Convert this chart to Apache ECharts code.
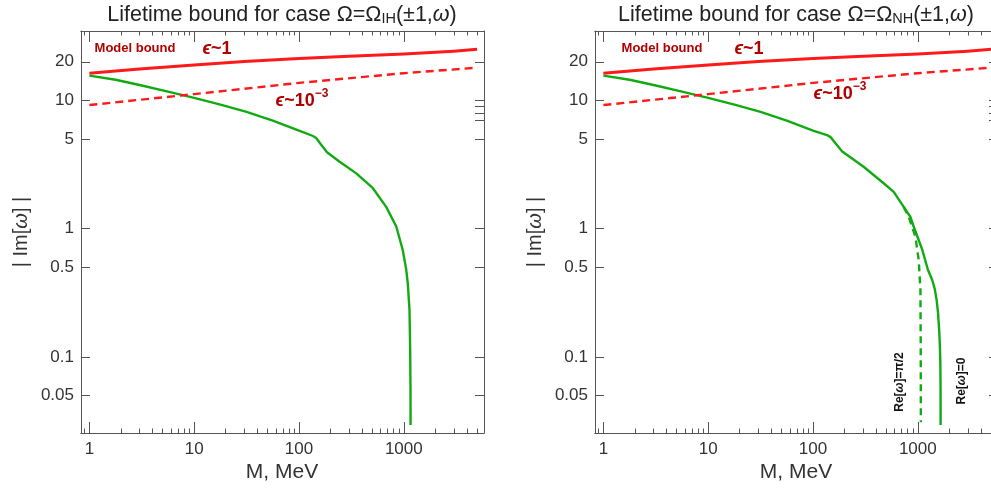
<!DOCTYPE html>
<html>
<head>
<meta charset="utf-8">
<script src="https://cdn.jsdelivr.net/npm/echarts@6/dist/echarts.min.js"></script>
<style>html,body{margin:0;padding:0;background:#fff;}#c{width:991px;height:494px;}</style>
</head>
<body>
<div id="c"></div>
<script>
// ---- data (M in MeV, |Im[ω]|) ----
const redSolidM = [1, 3, 10, 30, 100, 300, 1000, 3000, 5000];
const redSolidY = [16.3, 17.6, 18.9, 20.1, 21.2, 22.1, 23.0, 24.2, 25.0];
const redDashM = [1, 10, 100, 1000, 5000];
const redDashY = [9.2, 11.2, 13.7, 16.3, 18.0];

const greenIH_M = [1, 1.78, 3.16, 5.62, 10, 17.8, 31.6, 56.2, 100, 136, 146, 160, 185, 244, 352, 507, 679, 847, 978, 1054, 1091, 1133, 1150, 1158, 1160];
const greenIH_Y = [15.6, 14.5, 13.06, 11.72, 10.47, 9.27, 8.15, 6.97, 5.82, 5.28, 5.1, 4.6, 3.95, 3.33, 2.70, 2.07, 1.48, 1.04, 0.68, 0.48, 0.375, 0.232, 0.113, 0.055, 0.0295];

const greenNH_M = [1, 1.78, 3.16, 5.62, 10, 17.8, 31.6, 56.2, 100, 136, 148, 163, 190, 304, 472, 589, 733, 848, 914, 1000, 1100, 1250, 1370, 1450, 1510, 1560, 1600, 1625, 1640, 1648, 1650];
const greenNH_Y = [15.6, 14.5, 13.06, 11.72, 10.47, 9.27, 8.15, 6.97, 5.82, 5.37, 5.15, 4.65, 4.0, 3.04, 2.26, 1.94, 1.48, 1.24, 1.04, 0.85, 0.69, 0.477, 0.40, 0.34, 0.28, 0.22, 0.16, 0.12, 0.09, 0.055, 0.0295];
const greenNHdash_M = [733, 819, 948, 1020, 1059, 1066, 1069];
const greenNHdash_Y = [1.48, 1.24, 0.867, 0.57, 0.333, 0.12, 0.031];

const xTickLabels = [1, 10, 100, 1000];
const xMinorTicks = [0.9, 2, 3, 4, 5, 6, 7, 8, 9, 20, 30, 40, 50, 60, 70, 80, 90, 200, 300, 400, 500, 600, 700, 800, 900, 2000, 3000, 4000, 5000];
const yTickLabels = [0.05, 0.1, 0.5, 1, 5, 10, 20];
const yRightTicks = [0.05, 0.1, 0.5, 1, 5, 7, 8, 9, 10, 20];

// ---- layout/style ----
const XMIN = -0.08, XMAX = 3.765, YMIN = -1.592, YMAX = 1.541;
const FONT = 'Liberation Sans, Arial, sans-serif';
const FRAME = '#555';
const TXT = '#333';
const RED = '#ff1a1a', GREEN = '#12aa12', DRED = '#b00000';
const L = v => Math.log10(v);
const pts = (m, y) => m.map((v, i) => [L(v), L(y[i])]);
const fmt = v => String(Number(Math.pow(10, v).toPrecision(4)));

function xAx(gi, pos, ticks, len, labels) {
  return {
    gridIndex: gi, type: 'value', position: pos, min: XMIN, max: XMAX,
    axisLine: {show: true, onZero: false, lineStyle: {color: FRAME, width: 1}},
    axisTick: {show: true, inside: true, length: len, customValues: ticks.map(L), lineStyle: {color: FRAME, width: 1}},
    axisLabel: labels ? {show: true, customValues: labels.map(L), formatter: fmt, fontSize: 17, color: TXT, fontFamily: FONT, margin: 8} : {show: false},
    splitLine: {show: false}
  };
}
function yAx(gi, pos, ticks, labels) {
  return {
    gridIndex: gi, type: 'value', position: pos, min: YMIN, max: YMAX,
    axisLine: {show: true, onZero: false, lineStyle: {color: FRAME, width: 1}},
    axisTick: {show: true, inside: true, length: 9, customValues: ticks.map(L), lineStyle: {color: FRAME, width: 1}},
    axisLabel: labels ? {show: true, customValues: labels.map(L), formatter: fmt, fontSize: 17, color: TXT, fontFamily: FONT, margin: 7} : {show: false},
    splitLine: {show: false}
  };
}

const xAxis = [], yAxis = [];
[0, 1].forEach(gi => {
  xAxis.push(xAx(gi, 'bottom', xTickLabels, 11, xTickLabels));
  xAxis.push(xAx(gi, 'bottom', xMinorTicks, 4.5, null));
  xAxis.push(xAx(gi, 'top', xTickLabels, 11, null));
  xAxis.push(xAx(gi, 'top', xMinorTicks, 4.5, null));
  yAxis.push(yAx(gi, 'left', yTickLabels, yTickLabels));
  yAxis.push(yAx(gi, 'right', yRightTicks, null));
});

function line(gi, data, color, width, dash) {
  return {
    type: 'line', xAxisIndex: gi * 4, yAxisIndex: gi * 2, data: data,
    showSymbol: false, symbol: 'none', smooth: false, clip: true, silent: true,
    lineStyle: {color: color, width: width, type: dash || 'solid', cap: 'butt', join: 'round'},
    z: 3
  };
}

const series = [
  line(0, pts(greenIH_M, greenIH_Y), GREEN, 2.4),
  line(0, pts(redDashM, redDashY), RED, 2.4, [8, 5]),
  line(0, pts(redSolidM, redSolidY), RED, 3),
  line(1, pts(greenNH_M, greenNH_Y), GREEN, 2.4),
  line(1, pts(greenNHdash_M, greenNHdash_Y), GREEN, 2.4, [7, 5]),
  line(1, pts(redDashM, redDashY), RED, 2.4, [8, 5]),
  line(1, pts(redSolidM, redSolidY), RED, 3)
];

function txt(x, y, text, rich, extra) {
  return Object.assign({type: 'text', x: x, y: y, silent: true,
    style: {text: text, rich: rich, align: 'center', verticalAlign: 'middle', fontFamily: FONT}}, extra || {});
}
const titleRich = {
  t: {fontSize: 21.5, fontFamily: FONT, fill: '#222', lineHeight: 26, verticalAlign: 'bottom'},
  s: {fontSize: 14.5, fontFamily: FONT, fill: '#222', lineHeight: 19, verticalAlign: 'bottom'},
  i: {fontSize: 21.5, fontFamily: FONT, fill: '#222', fontStyle: 'italic', lineHeight: 26, verticalAlign: 'bottom'}
};
const yNameRich = {
  t: {fontSize: 20, fontFamily: FONT, fill: TXT},
  i: {fontSize: 20, fontFamily: FONT, fill: TXT, fontStyle: 'italic'}
};
const xNameRich = {
  t: {fontSize: 21, fontFamily: FONT, fill: TXT}
};
const labRich = {
  m: {fontSize: 13, fontWeight: 'bold', fontFamily: FONT, fill: DRED},
  e: {fontSize: 18, fontWeight: 'bold', fontStyle: 'italic', fontFamily: FONT, fill: DRED, lineHeight: 22, verticalAlign: 'bottom'},
  b: {fontSize: 18, fontWeight: 'bold', fontFamily: FONT, fill: DRED, lineHeight: 22, verticalAlign: 'bottom'},
  p: {fontSize: 12, fontWeight: 'bold', fontFamily: FONT, fill: DRED, lineHeight: 22, verticalAlign: 'top'}
};
const reRich = {
  r: {fontSize: 12, fontWeight: 'bold', fontFamily: FONT, fill: '#111'},
  i: {fontSize: 12, fontWeight: 'bold', fontStyle: 'italic', fontFamily: FONT, fill: '#111'}
};

const graphic = [
  txt(282, 13, '{t|Lifetime bound for case Ω=Ω}{s|IH}{t|(±1,}{i|ω}{t|)}', titleRich),
  txt(796, 13, '{t|Lifetime bound for case Ω=Ω}{s|NH}{t|(±1,}{i|ω}{t|)}', titleRich),
  txt(21, 232, '{t|| Im[}{i|ω}{t|] |}', yNameRich, {rotation: Math.PI / 2}),
  txt(535, 232, '{t|| Im[}{i|ω}{t|] |}', yNameRich, {rotation: Math.PI / 2}),
  txt(282, 472, '{t|M, MeV}', xNameRich),
  txt(796, 472, '{t|M, MeV}', xNameRich),
  txt(135, 48, '{m|Model bound}', labRich),
  txt(217, 47, '{e|ϵ}{b|~1}', labRich),
  txt(302, 99, '{e|ϵ}{b|~10}{p|−3}', labRich),
  txt(662, 48, '{m|Model bound}', labRich),
  txt(749, 47, '{e|ϵ}{b|~1}', labRich),
  txt(840, 92, '{e|ϵ}{b|~10}{p|−3}', labRich),
  txt(900, 382, '{r|Re[}{i|ω}{r|]=π/2}', reRich, {rotation: Math.PI / 2}),
  txt(962, 381, '{r|Re[}{i|ω}{r|]=0}', reRich, {rotation: Math.PI / 2})
];

const chart = echarts.init(document.getElementById('c'), null, {renderer: 'canvas'});
chart.setOption({
  animation: false,
  backgroundColor: '#fff',
  grid: [
    {left: 81, top: 31, width: 403, height: 402, containLabel: false, outerBoundsMode: 'none'},
    {left: 595, top: 31, width: 403, height: 402, containLabel: false, outerBoundsMode: 'none'}
  ],
  xAxis: xAxis,
  yAxis: yAxis,
  series: series,
  graphic: graphic
});
</script>
</body>
</html>
